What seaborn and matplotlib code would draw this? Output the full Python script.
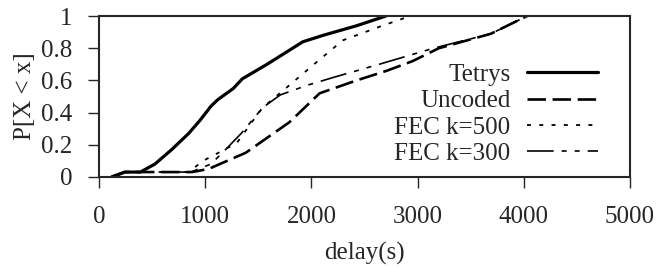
import numpy as np
import pandas as pd
import matplotlib
matplotlib.use("Agg")
import matplotlib.pyplot as plt
import seaborn as sns

# CDF of delay
tetrys_x = [120, 245, 390, 527, 685, 844, 949, 1055, 1118, 1265, 1350, 1582, 1919, 2109, 2426, 2700]
tetrys_p = [0.0, 0.03, 0.03, 0.08, 0.17, 0.27, 0.35, 0.44, 0.48, 0.55, 0.61, 0.70, 0.84, 0.88, 0.94, 1.0]

uncoded_x = [120, 245, 880, 1034, 1382, 1793, 2078, 2426, 2710, 2953, 3200, 3690, 4030]
uncoded_p = [0.0, 0.03, 0.03, 0.05, 0.15, 0.34, 0.52, 0.60, 0.66, 0.72, 0.80, 0.89, 1.0]

fec500_x = [120, 245, 844, 981, 1297, 1450, 1540, 1793, 2078, 2299, 2668, 2930]
fec500_p = [0.0, 0.03, 0.03, 0.10, 0.21, 0.35, 0.43, 0.57, 0.73, 0.85, 0.94, 1.0]

fec300_x = [120, 245, 865, 1055, 1192, 1339, 1540, 1708, 1962, 2215, 2637, 3150, 3690, 4030]
fec300_p = [0.0, 0.03, 0.03, 0.08, 0.17, 0.27, 0.43, 0.51, 0.57, 0.62, 0.70, 0.80, 0.89, 1.0]

names = ["Tetrys", "Uncoded", "FEC k=500", "FEC k=300"]

frames = []
for name, xs, ps in zip(names,
                        [tetrys_x, uncoded_x, fec500_x, fec300_x],
                        [tetrys_p, uncoded_p, fec500_p, fec300_p]):
    frames.append(pd.DataFrame({"delay": xs, "p": ps, "series": name}))
df = pd.concat(frames, ignore_index=True)

sns.set_style("ticks")
plt.rcParams["font.family"] = ["Liberation Serif", "DejaVu Serif"]
plt.rcParams["font.size"] = 18

fig = plt.figure(figsize=(6.6, 2.68), dpi=100)
ax = fig.add_axes([0.15, 0.34, 0.8045, 0.60])

dashes = {
    "Tetrys": "",
    "Uncoded": (7, 2.5),
    "FEC k=500": (2.2, 4.6),
    "FEC k=300": (16, 4.8, 3, 4.8, 3, 4.8),
}
widths = {"Tetrys": 2.3, "Uncoded": 1.9, "FEC k=500": 1.3, "FEC k=300": 1.2}

sns.lineplot(data=df, x="delay", y="p", hue="series", style="series",
             dashes=dashes, palette=["black"] * 4, hue_order=names,
             style_order=names, sort=False, estimator=None, ax=ax,
             legend=True)
for line, name in zip(ax.get_lines(), names):
    line.set_linewidth(widths[name])

ax.set_xlim(0, 5000)
ax.set_ylim(0, 1)
ax.set_xticks([0, 1000, 2000, 3000, 4000, 5000])
ax.set_yticks([0, 0.2, 0.4, 0.6, 0.8, 1])
ax.set_yticklabels(["0", "0.2", "0.4", "0.6", "0.8", "1"])
ax.set_xlabel("delay(s)", labelpad=10)
ax.set_ylabel("P[X < x]", labelpad=4)
ax.tick_params(direction="out", length=8, width=1.0)
ax.tick_params(axis="x", pad=13)
ax.tick_params(axis="y", pad=11)
for s in ax.spines.values():
    s.set_linewidth(1.5)

handles, labels = ax.get_legend_handles_labels()
for h, name in zip(handles, labels):
    h.set_linewidth(widths.get(name, 1.3))
leg = ax.legend(handles, labels, loc="lower right", frameon=False,
                markerfirst=False, handlelength=2.85, labelspacing=0.15,
                borderpad=0, borderaxespad=0, handletextpad=0.65,
                bbox_to_anchor=(0.94, 0.075))
for t in leg.get_texts():
    t.set_ha("right")

fig.savefig("out.png", dpi=100)
